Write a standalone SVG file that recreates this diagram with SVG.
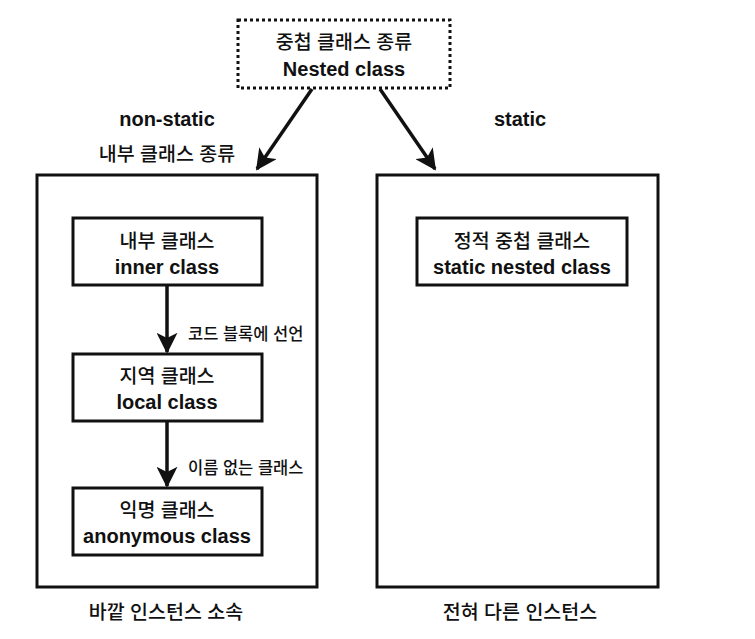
<svg xmlns="http://www.w3.org/2000/svg" width="755" height="639" viewBox="0 0 755 639">
<defs>
<style>
text{font-family:"Liberation Sans","Noto Sans CJK KR",sans-serif;fill:#111;text-anchor:middle}
.t{font-size:20px;font-weight:bold}
.k{font-size:19.5px;font-weight:500}
.s{font-size:16.5px;font-weight:500;text-anchor:start}
.box{fill:#fff;stroke:#111;stroke-width:3}
.dot{fill:#fff;stroke:#111;stroke-width:3;stroke-dasharray:3 3}
.c{fill:none;stroke:#111;stroke-width:3.5}
</style>
<marker id="ah" viewBox="0 0 12 12" refX="11" refY="6" markerWidth="6" markerHeight="6" orient="auto" markerUnits="strokeWidth">
<path d="M0,0 L12,6 L0,12 L3,6 Z" fill="#111"/>
</marker>
</defs>
<rect width="755" height="639" fill="#fff"/>
<g id="containers">
<g id="nonstatic-box"><rect class="box" x="37" y="175" width="280" height="412"/></g>
<g id="static-box"><rect class="box" x="377" y="175" width="281" height="412"/></g>
</g>
<g id="connectors">
<line class="c" x1="312" y1="89" x2="257" y2="169" marker-end="url(#ah)"/>
<line class="c" x1="380" y1="89" x2="435" y2="169" marker-end="url(#ah)"/>
<line class="c" x1="167" y1="286" x2="167" y2="352" marker-end="url(#ah)"/>
<line class="c" x1="167" y1="422" x2="167" y2="486" marker-end="url(#ah)"/>
<text class="s" x="188" y="340">코드 블록에 선언</text>
<text class="s" x="188" y="474">이름 없는 클래스</text>
</g>
<g id="nested">
<rect class="dot" x="238" y="20" width="212" height="68"/>
<text class="k" x="344" y="49">중첩 클래스 종류</text>
<text class="t" x="344" y="76">Nested class</text>
</g>
<g id="labels">
<text class="t" x="167" y="126">non-static</text>
<text class="k" x="167" y="161">내부 클래스 종류</text>
<text class="t" x="520" y="126">static</text>
<text class="k" x="166" y="619">바깥 인스턴스 소속</text>
<text class="k" x="520" y="619">전혀 다른 인스턴스</text>
</g>
<g id="inner">
<rect class="box" x="73" y="218" width="189" height="67"/>
<text class="k" x="167" y="248">내부 클래스</text>
<text class="t" x="167" y="274">inner class</text>
</g>
<g id="local">
<rect class="box" x="73" y="354" width="189" height="67"/>
<text class="k" x="167" y="383">지역 클래스</text>
<text class="t" x="167" y="409">local class</text>
</g>
<g id="anonymous">
<rect class="box" x="73" y="488" width="189" height="67"/>
<text class="k" x="167" y="517">익명 클래스</text>
<text class="t" x="167" y="543">anonymous class</text>
</g>
<g id="staticnested">
<rect class="box" x="417" y="218" width="210" height="67"/>
<text class="k" x="522" y="248">정적 중첩 클래스</text>
<text class="t" x="522" y="274">static nested class</text>
</g>
</svg>
